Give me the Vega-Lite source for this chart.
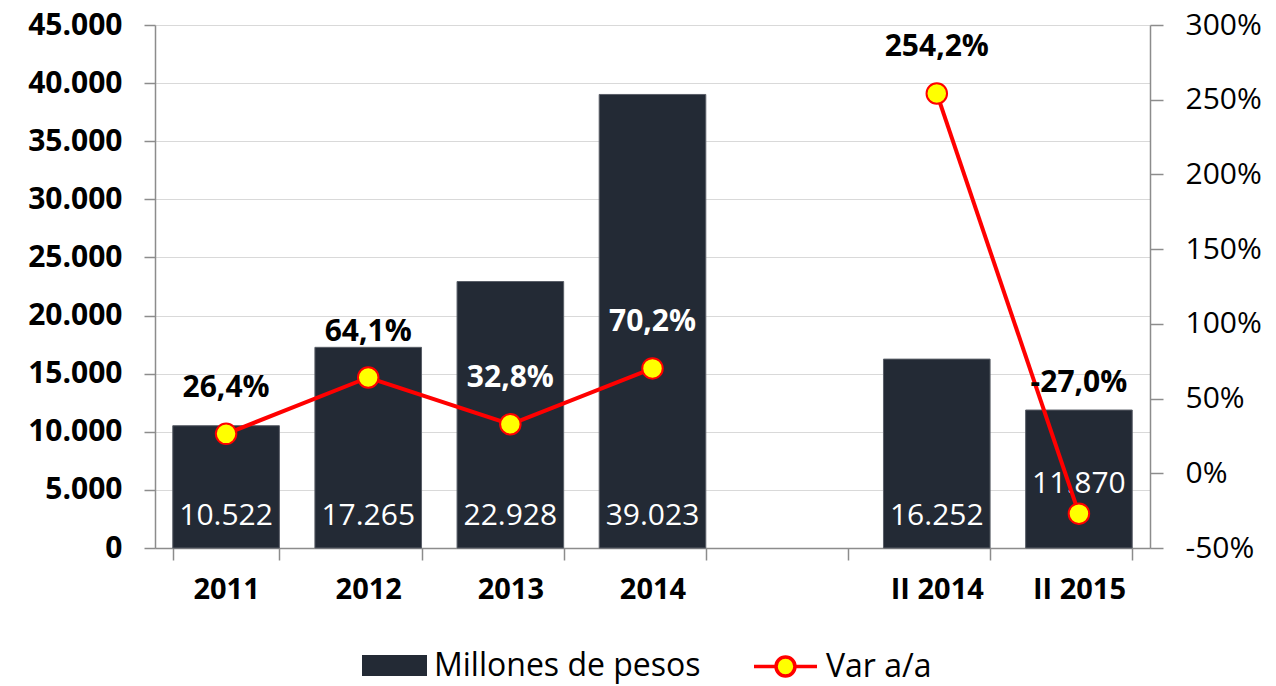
{
  "$schema": "https://vega.github.io/schema/vega-lite/v6.json",
  "width": 995,
  "height": 523,
  "autosize": {"type": "none"},
  "padding": {"left": 155, "top": 25, "right": 126, "bottom": 138},
  "background": "white",
  "config": {
    "locale": {"number": {"decimal": ",", "thousands": ".", "grouping": [3], "currency": ["$", ""], "minus": "-"}},
    "font": "Open Sans",
    "view": {"stroke": null},
    "axis": {"domainColor": "#8c8c8c", "tickColor": "#8c8c8c", "gridColor": "#d9d9d9", "labelColor": "#000000", "domainWidth": 1.5, "tickWidth": 1.5, "titleFontSize": 1}
  },
  "data": {"values": [
    {"periodo": "2011", "grupo": "anual", "millones": 10522, "var": 0.264},
    {"periodo": "2012", "grupo": "anual", "millones": 17265, "var": 0.641},
    {"periodo": "2013", "grupo": "anual", "millones": 22928, "var": 0.328},
    {"periodo": "2014", "grupo": "anual", "millones": 39023, "var": 0.702},
    {"periodo": "II 2014", "grupo": "semestral", "millones": 16252, "var": 2.542},
    {"periodo": "II 2015", "grupo": "semestral", "millones": 11870, "var": -0.270}
  ]},
  "encoding": {
    "x": {
      "field": "periodo", "type": "nominal",
      "scale": {"domain": ["2011", "2012", "2013", "2014", " ", "II 2014", "II 2015"], "paddingInner": 0.25, "paddingOuter": 0.125},
      "axis": {"title": null, "labelAngle": 0, "labelFontSize": 29, "labelFontWeight": "bold", "tickBand": "extent", "tickSize": 12, "labelPadding": 15}
    }
  },
  "layer": [
    {
      "layer": [
        {
          "mark": {"type": "bar", "stroke": "#5a5f68", "strokeWidth": 1},
          "encoding": {
            "y": {"field": "millones", "type": "quantitative",
              "scale": {"domain": [0, 45000], "nice": false},
              "axis": {"title": null, "values": [0, 5000, 10000, 15000, 20000, 25000, 30000, 35000, 40000, 45000], "format": ",.0f", "labelFontSize": 30, "labelFontWeight": "bold", "tickSize": 11, "labelPadding": 22, "grid": true}},
            "fill": {"datum": "Millones de pesos", "type": "nominal", "scale": {"range": ["#232a35"]},
              "legend": {"orient": "none", "legendX": 207, "legendY": 608, "title": null, "symbolType": "M-1,-0.32H1V0.32H-1Z", "symbolSize": 4225, "symbolStrokeWidth": 0, "labelFontSize": 32, "labelFont": "Open Sans", "labelOffset": 7, "labelLimit": 500}}
          }
        },
        {
          "transform": [{"filter": "datum.periodo !== 'II 2015'"}],
          "mark": {"type": "text", "color": "#ffffff", "fontSize": 30, "baseline": "middle", "dy": -32},
          "encoding": {"y": {"datum": 0, "type": "quantitative"}, "text": {"field": "millones", "type": "quantitative", "format": ",.0f"}}
        },
        {
          "transform": [{"filter": "datum.periodo === 'II 2015'"}],
          "mark": {"type": "text", "color": "#ffffff", "fontSize": 30, "baseline": "middle", "dy": -64},
          "encoding": {"y": {"datum": 0, "type": "quantitative"}, "text": {"field": "millones", "type": "quantitative", "format": ",.0f"}}
        }
      ]
    },
    {
      "layer": [
        {
          "mark": {"type": "line", "strokeWidth": 4},
          "encoding": {
            "y": {"field": "var", "type": "quantitative",
              "scale": {"domain": [-0.5, 3], "nice": false},
              "axis": {"orient": "right", "title": null, "values": [-0.5, 0, 0.5, 1, 1.5, 2, 2.5, 3], "format": ".0%", "labelFontSize": 30, "tickSize": 13, "labelPadding": 22, "grid": false}},
            "detail": {"field": "grupo"},
            "stroke": {"datum": "Var a/a", "type": "nominal", "scale": {"range": ["#ff0000"]},
              "legend": {"orient": "none", "legendX": 597, "legendY": 608, "title": null, "symbolType": "M-1,0H-0.3A0.3,0.3 0 1,1 0.3,0A0.3,0.3 0 1,1 -0.3,0M0.3,0H1", "symbolSize": 3969, "symbolStrokeWidth": 3.5, "symbolFillColor": "#ffff00", "labelFontSize": 32, "labelFont": "Open Sans", "labelOffset": 7, "labelLimit": 500}}
          }
        },
        {
          "mark": {"type": "point", "filled": true, "fill": "#ffff00", "stroke": "#ff0000", "strokeWidth": 2, "size": 420, "opacity": 1},
          "encoding": {"y": {"field": "var", "type": "quantitative"}}
        },
        {
          "transform": [{"filter": "datum.periodo !== 'II 2015'"}],
          "mark": {"type": "text", "fontSize": 30, "fontWeight": "bold", "baseline": "middle", "dy": -46},
          "encoding": {
            "y": {"field": "var", "type": "quantitative"},
            "text": {"field": "var", "type": "quantitative", "format": ".1%"},
            "color": {"condition": {"test": "datum.periodo === '2013' || datum.periodo === '2014'", "value": "#ffffff"}, "value": "#000000"}
          }
        },
        {
          "transform": [{"filter": "datum.periodo === 'II 2015'"}],
          "mark": {"type": "text", "fontSize": 30, "fontWeight": "bold", "baseline": "middle", "dy": -131, "color": "#000000"},
          "encoding": {
            "y": {"field": "var", "type": "quantitative"},
            "text": {"field": "var", "type": "quantitative", "format": ".1%"}
          }
        }
      ]
    }
  ],
  "resolve": {"scale": {"y": "independent"}}
}
